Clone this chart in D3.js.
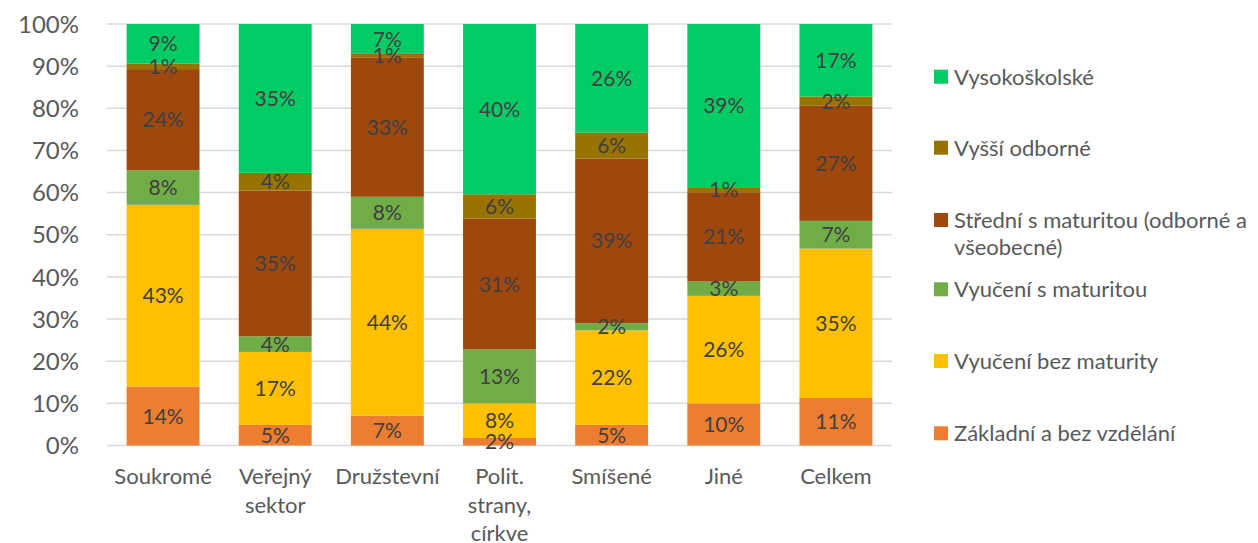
<!DOCTYPE html>
<html><head><meta charset="utf-8">
<script src="https://cdn.jsdelivr.net/npm/d3@7"></script>
<style>body{margin:0;background:#fff;} svg{display:block;font-family:Lato,"Open Sans",sans-serif;}</style>
</head><body>
<svg id="c" width="1258" height="543"></svg>
<script>
const categories = [["Soukromé"],["Veřejný","sektor"],["Družstevní"],["Polit.","strany,","církve"],["Smíšené"],["Jiné"],["Celkem"]];
const seriesNames = ["Základní a bez vzdělání","Vyučení bez maturity","Vyučení s maturitou","Střední s maturitou (odborné a všeobecné)","Vyšší odborné","Vysokoškolské"];
const seriesColors = ["#ED7D31","#FFC000","#70AD47","#9E480E","#997300","#00CC66"];
const zakladni   = [14.0, 4.9, 7.1, 1.8, 4.9, 10.0, 11.3];
const vyuceniBez = [43.1, 17.3, 44.3, 8.2, 22.4, 25.5, 35.4];
const vyuceniS   = [8.2, 3.7, 7.6, 12.8, 1.7, 3.4, 6.6];
const stredni    = [24.0, 34.6, 33.1, 31.0, 39.1, 21.2, 27.3];
const vyssi      = [1.3, 4.2, 0.8, 5.8, 6.1, 1.2, 2.2];
const vysoko     = [9.4, 35.3, 7.1, 40.4, 25.8, 38.7, 17.2];
const yTicks = [0,10,20,30,40,50,60,70,80,90,100];

(function(){
const series = [zakladni, vyuceniBez, vyuceniS, stredni, vyssi, vysoko];
const svg = d3.select("#c");
const pL=107, pR=892, pT=24, pB=445.5;
const x = d3.scaleBand().domain(d3.range(categories.length)).range([pL,pR]).paddingInner(0.35).paddingOuter(0.175);
const y = d3.scaleLinear().domain([0,100]).range([pB,pT]);

svg.append("g").selectAll("line").data(yTicks).join("line")
  .attr("x1",pL).attr("x2",pR).attr("y1",d=>y(d)).attr("y2",d=>y(d))
  .attr("stroke","#d9d9d9").attr("stroke-width",1.5);

svg.append("g").selectAll("text").data(yTicks).join("text")
  .attr("x",79).attr("y",d=>y(d)).attr("dy","0.36em").attr("text-anchor","end")
  .attr("font-size",24).attr("fill","#595959").text(d=>d+"%");

const rows = categories.map((c,i)=>{const o={i}; series.forEach((s,k)=>o["s"+k]=s[i]); return o;});
const stack = d3.stack().keys(series.map((s,k)=>"s"+k))(rows);

const g = svg.append("g");
stack.forEach((layer,k)=>{
  g.append("g").selectAll("rect").data(layer).join("rect")
    .attr("x",d=>x(d.data.i)).attr("width",x.bandwidth())
    .attr("y",d=>y(d[1])).attr("height",d=>y(d[0])-y(d[1]))
    .attr("fill",seriesColors[k]);
});
stack.forEach((layer,k)=>{
  g.append("g").selectAll("text").data(layer).join("text")
    .attr("x",d=>x(d.data.i)+x.bandwidth()/2).attr("y",d=>(y(d[0])+y(d[1]))/2)
    .attr("dy","0.36em").attr("text-anchor","middle").attr("font-size",21).attr("fill","#404040")
    .text(d=>Math.round(d[1]-d[0])+"%");
});

const xl = svg.append("g");
categories.forEach((lines,i)=>{
  const t = xl.append("text").attr("text-anchor","middle").attr("font-size",22).attr("fill","#595959");
  lines.forEach((ln,j)=>t.append("tspan").attr("x",x(i)+x.bandwidth()/2).attr("y",484+j*28.5).text(ln));
});

const legendOrder = d3.range(seriesNames.length).reverse();
const legY = [76.7,147.7,220,289.3,361,433.3];
const lg = svg.append("g");
legendOrder.forEach((k,j)=>{
  lg.append("rect").attr("x",934).attr("y",legY[j]-7).attr("width",14).attr("height",14).attr("fill",seriesColors[k]);
  const t = lg.append("text").attr("font-size",22).attr("fill","#595959");
  if(k===3){
    t.append("tspan").attr("x",954).attr("y",legY[j]).attr("dy","0.36em").text("Střední s maturitou (odborné a");
    t.append("tspan").attr("x",954).attr("y",legY[j]+27).attr("dy","0.36em").text("všeobecné)");
  } else {
    t.append("tspan").attr("x",954).attr("y",legY[j]).attr("dy","0.36em").text(seriesNames[k]);
  }
});
})();
</script>
</body></html>
